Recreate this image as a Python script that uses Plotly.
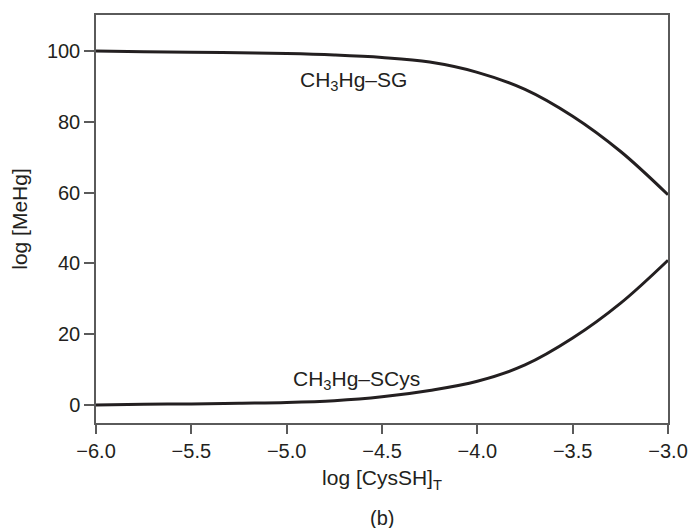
import plotly.graph_objects as go

# log total cysteine concentration
log_cys = [-6.0, -5.75, -5.5, -5.25, -5.0, -4.75, -4.5, -4.25, -4.0, -3.75, -3.5, -3.25, -3.0]
# percentage of MeHg bound to glutathione
sg_pct = [100.0, 99.8, 99.7, 99.5, 99.3, 98.9, 98.2, 96.9, 94.0, 89.2, 81.6, 71.7, 59.4]
# percentage of MeHg bound to cysteine
scys_pct = [0.0, 0.2, 0.3, 0.5, 0.7, 1.2, 2.3, 4.1, 6.7, 11.3, 18.9, 28.7, 40.9]

y_ticks = [0, 20, 40, 60, 80, 100]
x_ticks = [-6.0, -5.5, -5.0, -4.5, -4.0, -3.5, -3.0]
x_ticktext = [f"{v:.1f}".replace("-", "\u2212") for v in x_ticks]

FONT = "Liberation Sans, Arial, Helvetica, sans-serif"
INK = "#231f20"
AXIS = "#5a5a5a"

fig = go.Figure()
for ys in (sg_pct, scys_pct):
    fig.add_trace(go.Scatter(
        x=log_cys, y=ys, mode="lines",
        line=dict(color=INK, width=3, shape="spline", smoothing=1.0),
        showlegend=False, hoverinfo="skip",
    ))

label_font = dict(size=21, color=INK, family=FONT)
fig.add_annotation(x=-4.652, y=91.5, text="CH<sub>3</sub>Hg\u2013SG",
                   showarrow=False, font=label_font)
fig.add_annotation(x=-4.634, y=7.0, text="CH<sub>3</sub>Hg\u2013SCys",
                   showarrow=False, font=label_font)
fig.add_annotation(xref="paper", yref="paper", x=0.5, y=-0.2336, text="(b)",
                   showarrow=False, yanchor="middle",
                   font=dict(size=20, color=INK, family=FONT))

axis_common = dict(
    showgrid=False, zeroline=False,
    showline=True, linecolor=AXIS, linewidth=1.5, mirror=True,
    ticks="outside", tickwidth=1.5, tickcolor=AXIS,
    tickfont=dict(size=20, color=INK, family=FONT),
)

fig.update_layout(
    width=700, height=528,
    margin=dict(l=96, r=21, t=15, b=105),
    paper_bgcolor="white", plot_bgcolor="white",
    font=dict(family=FONT, size=20, color=INK),
    xaxis=dict(
        range=[-6.0, -3.0], tickvals=x_ticks, ticktext=x_ticktext, ticklen=9,
        title=dict(text="log [CysSH]<sub>T</sub>", standoff=10,
                   font=dict(size=21, color=INK, family=FONT)),
        **axis_common,
    ),
    yaxis=dict(
        range=[-5.1, 110.2], tickvals=y_ticks, ticklen=10,
        title=dict(text="log [MeHg]", standoff=14,
                   font=dict(size=21, color=INK, family=FONT)),
        **axis_common,
    ),
)

fig.write_html("out.html")
